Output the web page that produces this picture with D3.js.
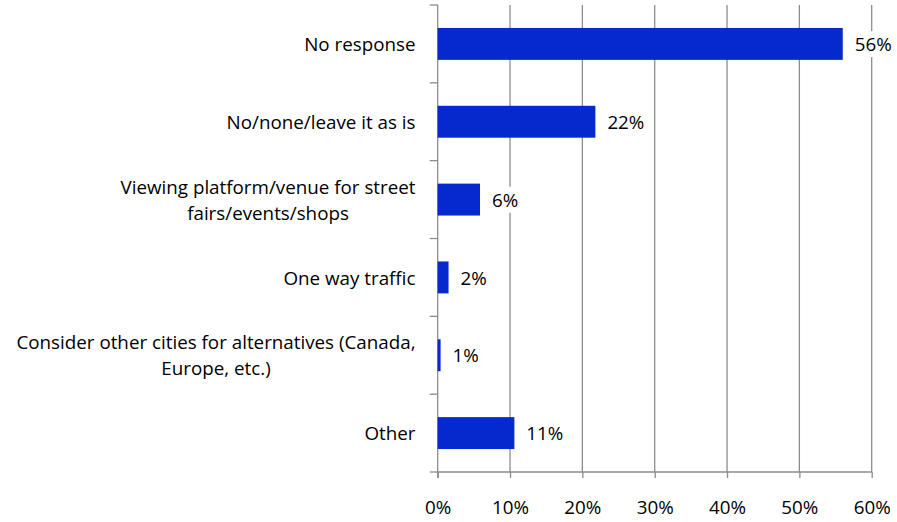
<!DOCTYPE html>
<html><head><meta charset="utf-8">
<script src="https://cdn.jsdelivr.net/npm/d3@7/dist/d3.min.js"></script>
<style>body{margin:0;background:#fff}svg{display:block}</style>
</head><body><svg id="c" width="897" height="522"></svg>
<script>
const categories = [
  ["No response"],
  ["No/none/leave it as is"],
  ["Viewing platform/venue for street", "fairs/events/shops"],
  ["One way traffic"],
  ["Consider other cities for alternatives (Canada,", "Europe, etc.)"],
  ["Other"]
];
const values = [56.0, 21.8, 5.85, 1.5, 0.4, 10.6];
const valueLabels = ["56%", "22%", "6%", "2%", "1%", "11%"];
const xTicks = [0, 10, 20, 30, 40, 50, 60];

const FONT = "'Open Sans', sans-serif";
const FS = 18.8;
const svg = d3.select("#c");
const m = {left: 437.7, right: 871.7, top: 5, bottom: 472};
const x = d3.scaleLinear().domain([0, 60]).range([m.left, m.right]);
const idx = d3.range(categories.length);
const y = d3.scaleBand().domain(idx).range([m.top, m.bottom]).paddingInner(0.59).paddingOuter(0.295);
const yOuter = d3.scaleBand().domain(idx).range([m.top, m.bottom]);

// gridlines
svg.append("g").selectAll("line").data(xTicks.slice(1)).join("line")
  .attr("x1", d => x(d)).attr("x2", d => x(d))
  .attr("y1", m.top).attr("y2", m.bottom)
  .attr("stroke", "#8c8c8c").attr("stroke-width", 1.3);

// x axis
const xa = svg.append("g").attr("transform", `translate(0,${m.bottom})`)
  .call(d3.axisBottom(x).tickValues(xTicks).tickFormat(d => d + "%").tickSize(6).tickPadding(23));
xa.select(".domain").attr("stroke", "#8c8c8c").attr("stroke-width", 1.3).attr("d", `M${m.left},0H${m.right}`);
xa.selectAll(".tick line").attr("stroke", "#8c8c8c").attr("stroke-width", 1.3);
xa.selectAll("text").attr("font-family", FONT).attr("font-size", FS).attr("fill", "#000");

// y axis line and ticks at band boundaries
svg.append("line").attr("x1", m.left).attr("x2", m.left).attr("y1", m.top).attr("y2", m.bottom + 6)
  .attr("stroke", "#8c8c8c").attr("stroke-width", 1.3);
const bounds = idx.map(i => yOuter(i)).concat([m.bottom]);
svg.append("g").selectAll("line").data(bounds).join("line")
  .attr("x1", m.left - 8).attr("x2", m.left).attr("y1", d => d).attr("y2", d => d)
  .attr("stroke", "#8c8c8c").attr("stroke-width", 1.3);

// bars
svg.append("g").selectAll("rect").data(values).join("rect")
  .attr("x", x(0)).attr("y", (d, i) => y(i))
  .attr("width", d => x(d) - x(0)).attr("height", y.bandwidth())
  .attr("fill", "#0429cc");

// value labels with white background
const vl = svg.append("g").selectAll("g").data(values).join("g");
vl.each(function(d, i) {
  const g = d3.select(this);
  const t = g.append("text").attr("x", x(d) + 12).attr("y", y(i) + y.bandwidth() / 2)
    .attr("dy", "0.38em").attr("font-family", FONT).attr("font-size", FS).attr("fill", "#000")
    .text(valueLabels[i]);
  const bb = t.node().getBBox();
  g.insert("rect", "text").attr("x", bb.x - 2).attr("y", bb.y).attr("width", bb.width + 4).attr("height", bb.height).attr("fill", "#fff");
});

// category labels
const cl = svg.append("g").selectAll("g").data(categories).join("g");
cl.each(function(lines, i) {
  const g = d3.select(this);
  const cy = yOuter(i) + yOuter.bandwidth() / 2;
  const lh = 26;
  const ts = lines.map((s, k) => g.append("text").attr("font-family", FONT).attr("font-size", FS).attr("fill", "#000")
    .attr("text-anchor", "middle").attr("y", cy + (k - (lines.length - 1) / 2) * lh).attr("dy", "0.38em").text(s));
  const w = d3.max(ts, t => t.node().getComputedTextLength());
  ts.forEach(t => t.attr("x", 415.5 - w / 2));
});
</script></body></html>
